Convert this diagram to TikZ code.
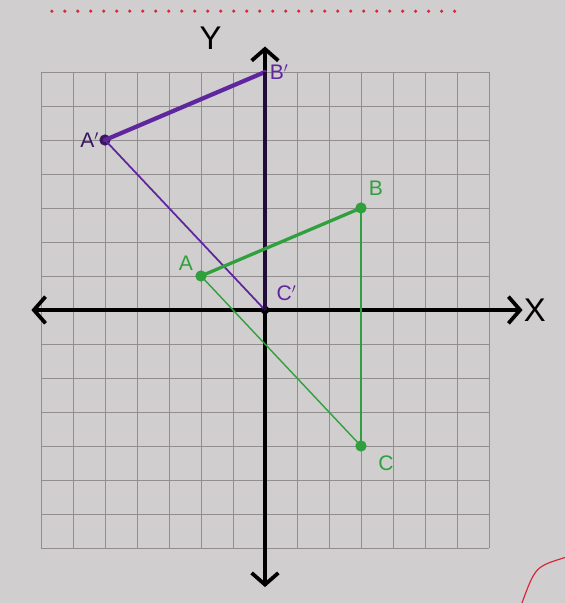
\documentclass[tikz,border=0pt]{standalone}
\usepackage{fontspec}
\setmainfont{Liberation Sans}
\usetikzlibrary{arrows.meta,positioning}
\definecolor{paper}{RGB}{208,206,206}
\definecolor{gridline}{RGB}{146,142,142}
\definecolor{imgpurple}{RGB}{96,38,158}
\definecolor{imggreen}{RGB}{48,160,62}
\definecolor{pagered}{RGB}{214,40,60}

\tikzset{
  axis/.style={line width=3.2pt, line cap=round,
    {Straight Barb[length=3.5mm,width=8mm]}-{Straight Barb[length=3.5mm,width=8mm]}},
  ptdot/.style={circle, inner sep=0pt, minimum size=3.4mm},
  ptlabel/.style={inner sep=1pt, font=\fontsize{18}{20}\selectfont},
  axlabel/.style={inner sep=1pt, font=\fontsize{28}{30}\selectfont}
}

\begin{document}
\begin{tikzpicture}[x=0.96cm,y=1.02cm]
% paper
\useasboundingbox (-8.281,-8.618) rectangle (9.375,9.118);
\fill[paper] (-8.281,-8.618) rectangle (9.375,9.118);
% red marks of the page
\foreach \i in {0,...,31} {
    \fill[pagered] (-6.66+\i*0.406,8.79) circle (1.5pt);
}
\draw[pagered, line width=1pt] (8.03,-8.62) .. controls (8.45,-7.55) .. (9.375,-7.28);

% graph paper
\foreach \k in {-7,...,7} {
    \draw[gridline, line width=0.8pt] (\k,-7) -- (\k,7);
    \draw[gridline, line width=0.8pt] (-7,\k) -- (7,\k);
}

% axes
\coordinate (xl) at (-7.3,0);
\coordinate (xr) at (8.05,0);
\coordinate (yt) at (0,7.75);
\coordinate (yb) at (0,-8.15);
\draw[axis] (xl) -- (xr);
\draw[axis] (yb) -- (yt);
\node[axlabel, right=0pt of xr] (xlab) {X};
\node[axlabel] (ylab) at (-1.7,7.98) {Y};

% image triangle A'B'C'
\node[ptdot, fill=imgpurple!60!black] (Ap) at (-5,5) {};
\coordinate (Bp) at (0,7);
\node[ptdot, fill=black, minimum size=2.6mm] (Cp) at (0,0) {};
\draw[imgpurple, line width=3.6pt, line cap=round] (Ap.center) -- (Bp);
\draw[imgpurple, line width=1.5pt] (Ap.center) -- (Cp.center);
\draw[imgpurple!35!black, line width=3.2pt] (Bp) -- (Cp.center);
\node[ptlabel, imgpurple!60!black, left=-1pt of Ap] (lAp) {A$'$};
\node[ptlabel, imgpurple, right=3pt of Bp] (lBp) {B$'$};
\node[ptlabel, imgpurple, above right=4pt and 6pt of Cp] (lCp) {C$'$};

% original triangle ABC
\node[ptdot, fill=imggreen] (A) at (-2,1) {};
\node[ptdot, fill=imggreen] (B) at (3,3) {};
\node[ptdot, fill=imggreen] (C) at (3,-4) {};
\draw[imggreen, line width=2.8pt] (A.center) -- (B.center);
\draw[imggreen, line width=2.4pt] (B.center) -- (C.center);
\draw[imggreen, line width=1.2pt] (A.center) -- (C.center);
\node[ptlabel, imggreen, above left=0pt and 2pt of A] (lA) {A};
\node[ptlabel, imggreen, above right=6pt and 2pt of B] (lB) {B};
\node[ptlabel, imggreen, below right=4pt and 10pt of C] (lC) {C};
\end{tikzpicture}
\end{document}
